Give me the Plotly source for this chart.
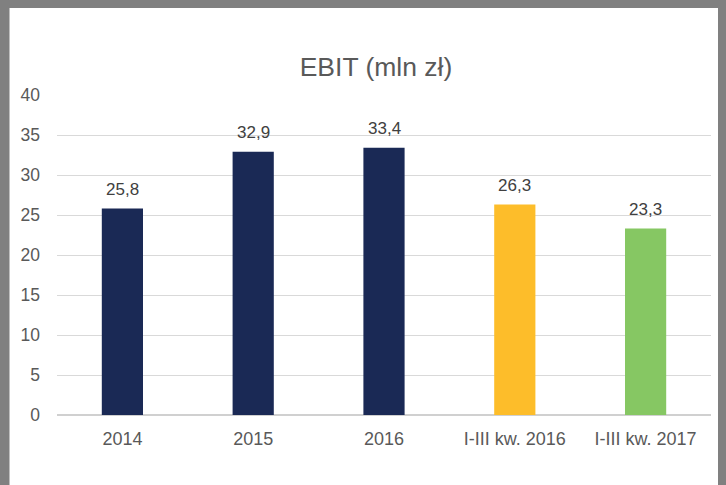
import plotly.graph_objects as go

categories = ["2014", "2015", "2016", "I-III kw. 2016", "I-III kw. 2017"]
values = [25.8, 32.9, 33.4, 26.3, 23.3]
labels = ["25,8", "32,9", "33,4", "26,3", "23,3"]
colors = ["#1A2955", "#1A2955", "#1A2955", "#FDBD2A", "#86C763"]
y_ticks = [0, 5, 10, 15, 20, 25, 30, 35, 40]

# page shows the figure offset by the default 8px body margin (grey frame);
# the figure is slightly larger than the window so its right edge is off-screen
W, H = 740, 485
L, R, T, B = 49, 37, 87, 78

fig = go.Figure()
fig.add_trace(go.Bar(
    x=categories, y=values, marker=dict(color=colors, line=dict(width=0)),
    width=0.315, hoverinfo="skip",
))

for i, (v, t) in enumerate(zip(values, labels)):
    fig.add_annotation(x=i, y=v, text=t, showarrow=False, yanchor="bottom",
                       yshift=8, font=dict(size=17, color="#404040",
                                             family="Liberation Sans, Arial"))

pw = W - L - R
ph = H - T - B
# thin extra grey on the left edge of the frame
fig.add_shape(type="rect", xref="paper", yref="paper",
              x0=-L / pw - 0.01, x1=(1.5 - L) / pw, y0=-B / ph - 0.01, y1=1 + T / ph + 0.01,
              fillcolor="#808080", line=dict(width=0), layer="above")

fig.update_layout(
    width=W, height=H,
    margin=dict(l=L, r=R, t=T, b=B),
    paper_bgcolor="white", plot_bgcolor="white",
    font=dict(family="Liberation Sans, Arial", color="#595959"),
    title=dict(text="EBIT (mln zł)", x=368 / W, xref="container", xanchor="center",
               y=1 - 59 / H, yref="container", yanchor="middle",
               font=dict(size=26.5, color="#595959")),
    showlegend=False,
    xaxis=dict(type="category", range=[-0.5, 4.5], showgrid=False, showline=False,
               zeroline=False, tickfont=dict(size=18, color="#595959"),
               ticklabelstandoff=11),
    yaxis=dict(range=[0, 40], tickvals=y_ticks, showgrid=True, gridcolor="#D9D9D9",
               gridwidth=1, zeroline=True, zerolinecolor="#D0D0D0", zerolinewidth=2,
               showline=False, tickfont=dict(size=17.5, color="#595959"),
               ticklabelstandoff=16),
)

fig.write_html(
    "out.html", config={"displayModeBar": False},
    post_script=("document.body.style.background='#808080';"
                 "document.body.style.overflow='hidden';"
                 "document.documentElement.style.overflow='hidden';"),
)
